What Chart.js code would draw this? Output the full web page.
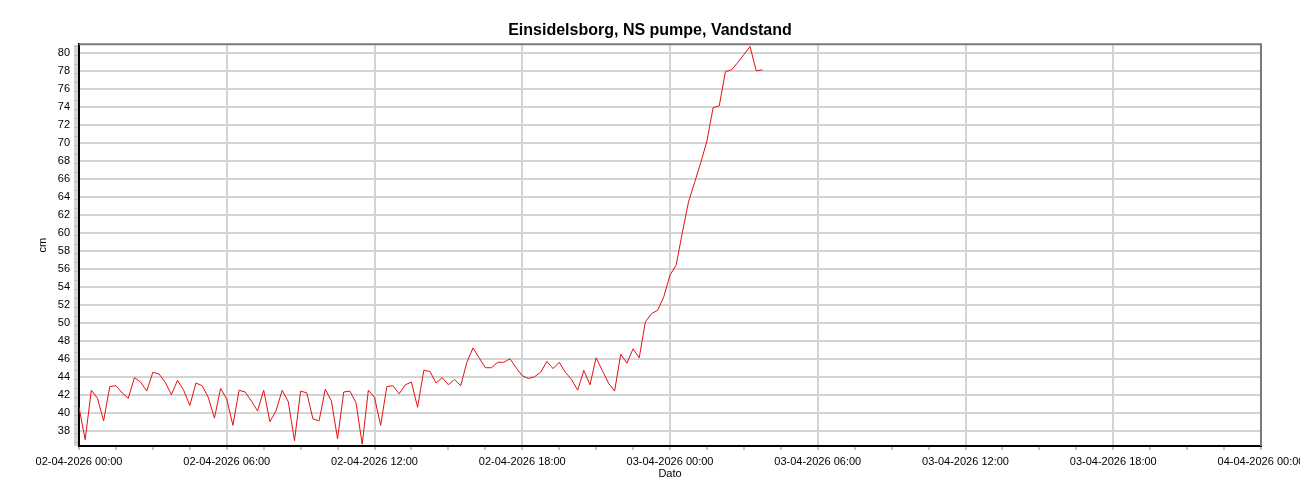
<!DOCTYPE html>
<html>
<head>
<meta charset="utf-8">
<script src="https://cdn.jsdelivr.net/npm/chart.js@4/dist/chart.umd.min.js"></script>
<style>
    html, body { margin: 0; padding: 0; background: #fff; }
    #wrap { width: 1300px; height: 500px; }
</style>
</head>
<body>
<div id="wrap"><canvas id="chart" width="1300" height="500"></canvas></div>
<script>
const chartTitle = "Einsidelsborg, NS pumpe, Vandstand";
const xAxisTitle = "Dato";
const yAxisTitle = "cm";

// one reading every 15 minutes from 02-04-2026 00:00
const sampleMinutes = 15;

const xTickLabels = [
    "02-04-2026 00:00", "02-04-2026 06:00", "02-04-2026 12:00", "02-04-2026 18:00",
    "03-04-2026 00:00", "03-04-2026 06:00", "03-04-2026 12:00", "03-04-2026 18:00",
    "04-04-2026 00:00"
];

const waterLevel = [
    40.6, 37.0, 42.5, 41.6, 39.1, 42.9, 43.0, 42.2, 41.6, 43.9,
    43.4, 42.4, 44.5, 44.3, 43.4, 42.0, 43.6, 42.5, 40.8, 43.3,
    43.0, 41.7, 39.4, 42.7, 41.5, 38.6, 42.5, 42.3, 41.3, 40.2,
    42.5, 39.0, 40.2, 42.5, 41.2, 36.9, 42.4, 42.2, 39.3, 39.1,
    42.6, 41.3, 37.1, 42.3, 42.4, 41.1, 36.5, 42.5, 41.7, 38.6,
    42.9, 43.0, 42.1, 43.1, 43.4, 40.6, 44.7, 44.6, 43.3, 43.9,
    43.1, 43.7, 43.0, 45.6, 47.2, 46.1, 45.0, 45.0, 45.6, 45.6,
    46.0, 45.0, 44.1, 43.8, 44.0, 44.5, 45.7, 44.9, 45.6, 44.5,
    43.7, 42.5, 44.7, 43.1, 46.1, 44.7, 43.3, 42.4, 46.5, 45.5,
    47.1, 46.1, 50.1, 51.0, 51.4, 52.9, 55.3, 56.4, 60.0, 63.4,
    65.6, 67.8, 70.2, 73.9, 74.1, 77.9, 78.1, 78.9, 79.8, 80.7,
    78.0, 78.1
];

const X_MAX = 48, X_MAJOR = 6, X_MINOR = 1.5;
const Y_MIN = 36.3, Y_MAX = 80.95, Y_MAJOR = 2, Y_MINOR = 0.2;

Chart.defaults.font.family = "'Liberation Sans', Arial, sans-serif";
Chart.defaults.color = "#000";

const isMult = (v, step) => Math.abs(v / step - Math.round(v / step)) < 1e-6;

const points = waterLevel.map((v, i) => ({ x: i * sampleMinutes / 60, y: v }));

// grey top and right edge of the plot frame
const frame = {
    id: "frame",
    afterDatasetsDraw(chart) {
        const { ctx, chartArea: a } = chart;
        ctx.save();
        ctx.strokeStyle = "#7a7a7a";
        ctx.lineWidth = 2;
        ctx.beginPath();
        ctx.moveTo(a.left, a.top);
        ctx.lineTo(a.right, a.top);
        ctx.lineTo(a.right, a.bottom);
        ctx.stroke();
        ctx.restore();
    }
};

new Chart(document.getElementById("chart"), {
    type: "line",
    data: {
        datasets: [{
            data: points,
            borderColor: "#e41010",
            borderWidth: 1,
            pointRadius: 0,
            tension: 0,
            fill: false
        }]
    },
    options: {
        responsive: false,
        animation: false,
        devicePixelRatio: 1,
        layout: { padding: 0 },
        plugins: {
            legend: { display: false },
            tooltip: { enabled: false },
            title: {
                display: true,
                text: chartTitle,
                color: "#000",
                font: { size: 16, weight: "bold" },
                padding: { top: 21, bottom: 4 }
            }
        },
        scales: {
            x: {
                type: "linear",
                min: 0,
                max: X_MAX,
                afterBuildTicks(scale) {
                    const t = [];
                    for (let v = 0; v <= X_MAX + 1e-9; v += X_MINOR) t.push({ value: v });
                    scale.ticks = t;
                },
                afterFit(scale) {
                    scale.height = 54;
                    scale.paddingLeft = 0;
                    scale.paddingRight = 0;
                },
                ticks: {
                    autoSkip: false,
                    maxRotation: 0,
                    padding: 5,
                    font: { size: 11 },
                    callback: v => isMult(v, X_MAJOR) ? xTickLabels[Math.round(v / X_MAJOR)] : ""
                },
                grid: {
                    color: c => isMult(c.tick.value, X_MAJOR) ? "#d4d4d4" : "rgba(0,0,0,0)",
                    lineWidth: 2,
                    tickColor: "#888",
                    tickWidth: 1,
                    tickLength: 4
                },
                border: { color: "#000", width: 2 },
                title: {
                    display: true,
                    text: xAxisTitle,
                    font: { size: 11 },
                    padding: { top: 0, bottom: 19 }
                }
            },
            y: {
                min: Y_MIN,
                max: Y_MAX,
                afterBuildTicks(scale) {
                    const t = [];
                    const start = Math.ceil(Y_MIN / Y_MINOR) * Y_MINOR;
                    for (let v = start; v <= Y_MAX + 1e-9; v += Y_MINOR) t.push({ value: Math.round(v * 10) / 10 });
                    scale.ticks = t;
                },
                afterFit(scale) {
                    scale.width = 79;
                },
                ticks: {
                    autoSkip: false,
                    padding: 4,
                    font: { size: 11 },
                    callback: v => isMult(v, Y_MAJOR) ? String(Math.round(v)) : ""
                },
                grid: {
                    color: c => isMult(c.tick.value, Y_MAJOR) ? "#d4d4d4" : "rgba(0,0,0,0)",
                    lineWidth: 2,
                    tickColor: "#aaa",
                    tickWidth: 1,
                    tickLength: 5
                },
                border: { color: "#000", width: 2 },
                title: {
                    display: true,
                    text: yAxisTitle,
                    font: { size: 11 },
                    padding: { top: 36, bottom: 0 }
                }
            },
            // empty strip on the right so the plot ends where the reference does
            spacer: {
                position: "right",
                display: true,
                ticks: { display: false },
                grid: { display: false },
                border: { display: false },
                afterFit(scale) {
                    scale.width = 39;
                }
            }
        }
    },
    plugins: [frame]
});
</script>
</body>
</html>
